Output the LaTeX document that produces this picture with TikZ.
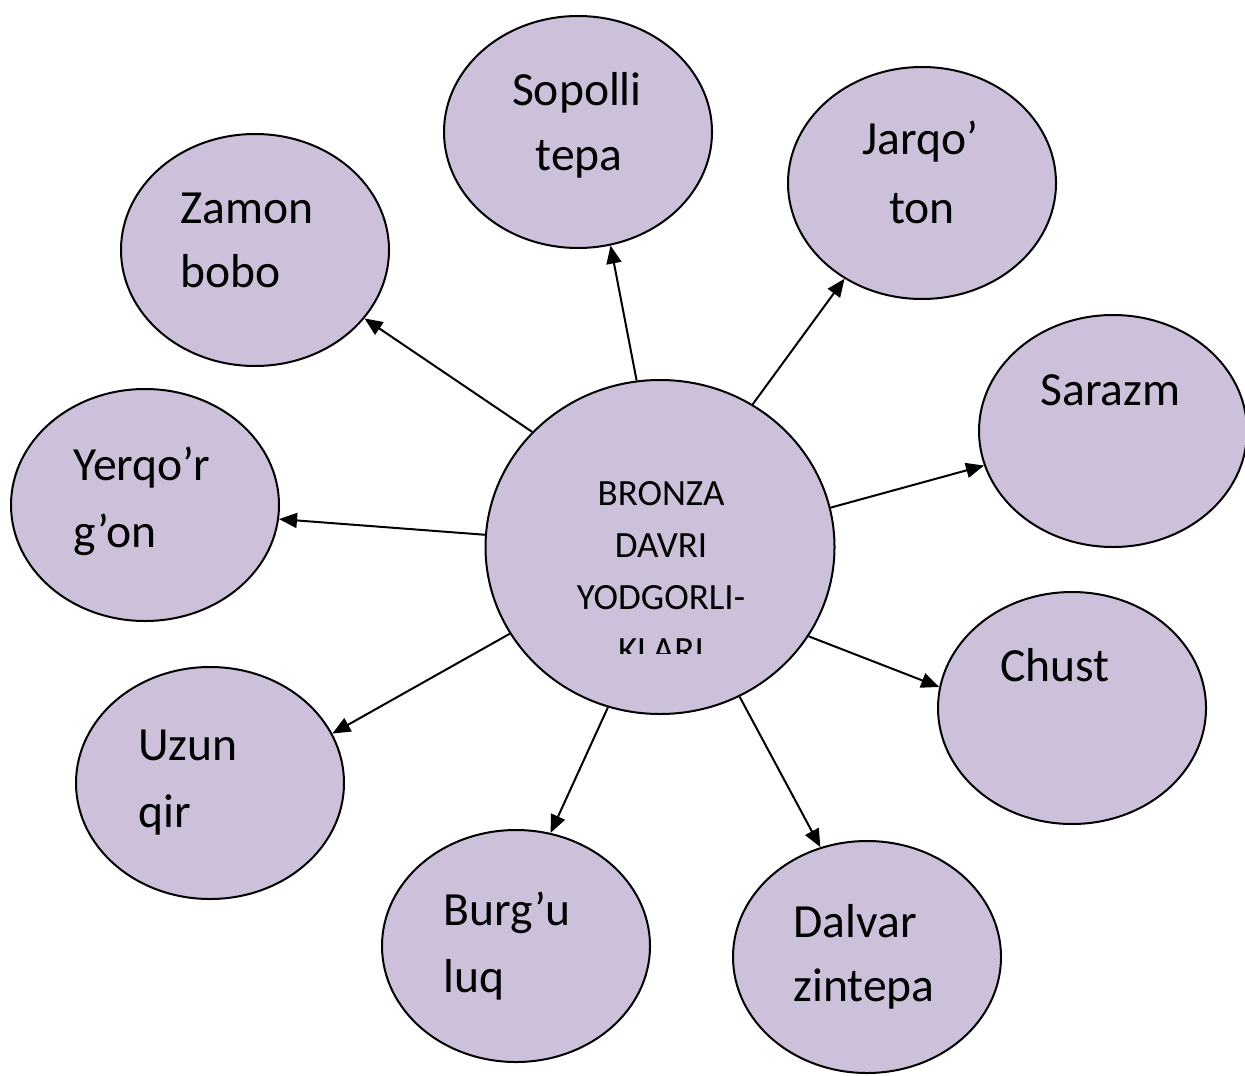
\documentclass[tikz,border=0pt]{standalone}
\usepackage{fontspec}
\setmainfont{Carlito}
\usetikzlibrary{shapes.geometric,arrows.meta}
\definecolor{lav}{HTML}{CCC0DA}
\begin{document}
\begin{tikzpicture}[x=0.5pt,y=-0.5pt,
  leaf/.style={ellipse,draw,fill=lav,line width=1pt,minimum width=134pt,minimum height=116pt,inner sep=0pt},
  hub/.style={ellipse,draw,fill=lav,line width=1pt,minimum width=174.5pt,minimum height=167pt,inner sep=0pt},
  lbl/.style={font=\fontsize{23.8}{28}\selectfont,inner sep=0pt,anchor=base west},
  clbl/.style={lbl,anchor=base},
  hlbl/.style={font=\fontsize{18.5}{22}\selectfont,inner sep=0pt,anchor=base},
  link/.style={line width=1pt,-{Triangle[length=9pt,width=7.5pt]}}]
\useasboundingbox (0,0) rectangle (1245,1075);

\node[hub] (c) at (660,547) {};
\node[leaf] (sop) at (578,132) {};
\node[leaf] (jar) at (922,183) {};
\node[leaf] (zam) at (255,250) {};
\node[leaf] (sar) at (1113,431) {};
\node[leaf] (yer) at (145,505) {};
\node[leaf] (chu) at (1072,708) {};
\node[leaf] (uzu) at (210,783) {};
\node[leaf] (bur) at (516,946) {};
\node[leaf] (dal) at (867,957) {};

\node[clbl] (sop1) at (577,106) {Sopolli};
\node[clbl] (sop2) at (579,170) {tepa};
\node[clbl] (jar1) at (920,155) {Jarqo’};
\node[clbl] (jar2) at (922,223) {ton};
\node[lbl] (zam1) at (180,223) {Zamon};
\node[lbl] (zam2) at (180,287) {bobo};
\node[lbl] (sar1) at (1040,405) {Sarazm};
\node[lbl] (yer1) at (73,480) {Yerqo’r};
\node[lbl] (yer2) at (73,547) {g’on};
\node[lbl] (chu1) at (1000,681) {Chust};
\node[lbl] (uzu1) at (138,760) {Uzun};
\node[lbl] (uzu2) at (138,827) {qir};
\node[lbl] (bur1) at (443,925) {Burg’u};
\node[lbl] (bur2) at (443,992) {luq};
\node[lbl] (dal1) at (793,937) {Dalvar};
\node[lbl] (dal2) at (793,1001) {zintepa};

\node[hlbl] (h1) at (661,505) {BRONZA};
\node[hlbl] (h2) at (661,557) {DAVRI};
\node[hlbl] (h3) at (661,609) {YODGORLI-};
\begin{scope}
  \clip (540,620) rectangle (780,653);
  \node[hlbl] (h4) at (661,662) {KLARI};
\end{scope}

\draw[link] (c.98) -- (sop.286);
\draw[link] (c.57) -- (jar.231);
\draw[link] (c.13) -- (sar.195);
\draw[link] (c.329) -- (chu.171);
\draw[link] (c.298) -- (dal.113);
\draw[link] (c.252) -- (bur.73);
\draw[link] (c.210) -- (uzu.22);
\draw[link] (c.176) -- (yer.354);
\draw[link] (c.138) -- (zam.328);
\end{tikzpicture}
\end{document}
